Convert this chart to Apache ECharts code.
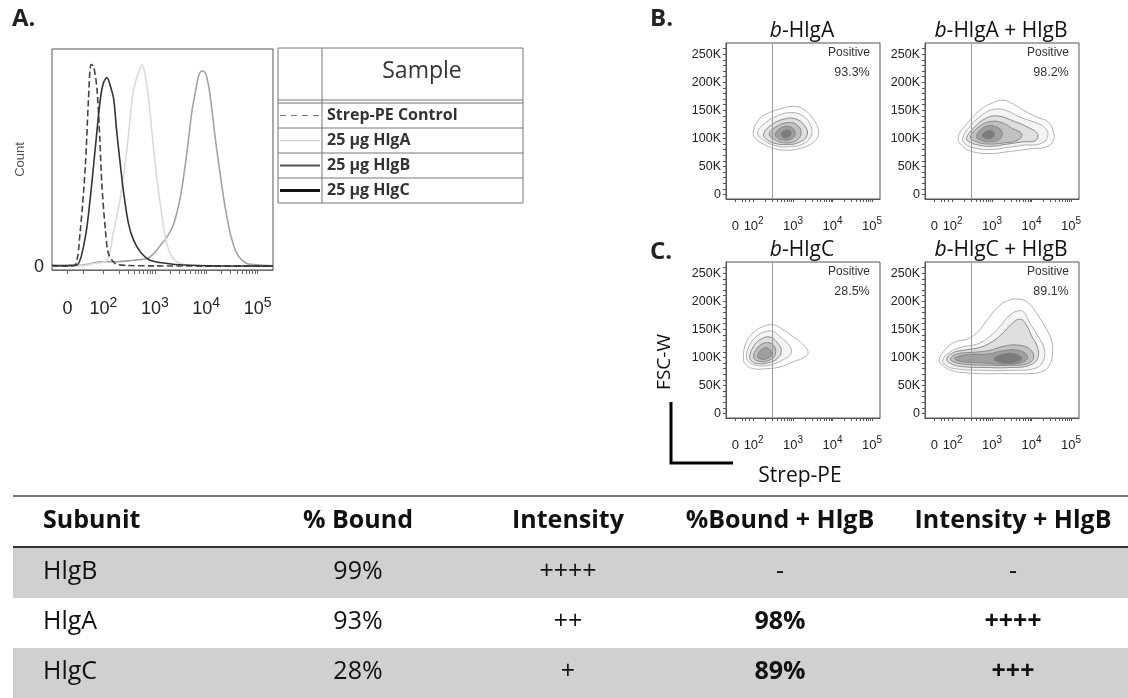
<!DOCTYPE html>
<html>
<head>
<meta charset="utf-8">
<script src="https://cdn.jsdelivr.net/npm/echarts@6/dist/echarts.min.js"></script>
<style>
html, body { margin: 0; padding: 0; background: #fff; }
#main { width: 1128px; height: 698px; }
</style>
</head>
<body>
<div id="main"></div>
<script>
// x values are in decades of the biexponential display (2 = 10^2 ...)
const histLabelAt = [1.3, 2, 3, 4, 5];
const cytoLabelAt = [1.54, 2, 3, 4, 5];
const fscLabelAt = [0, 50, 100, 150, 200, 250];

// panel A histograms (count as % of the tallest peak)
const strepControl = [[1.0,0.5],[1.29,0.3],[1.45,0.8],[1.55,16.6],[1.65,46.8],[1.71,77],[1.76,92.9],[1.81,92],[1.875,81.6],[1.93,58.9],[1.97,37.8],[2.04,16.6],[2.1,6],[2.23,1.5],[2.46,0.6],[3.0,0.4],[4.0,0.3],[5.3,0.3]];
const hlgA = [[1.0,0.3],[1.6,0.5],[1.81,1.5],[2.07,3],[2.2,16.6],[2.33,31.7],[2.46,54.4],[2.56,77],[2.62,84.6],[2.685,89.1],[2.75,92.9],[2.815,87.6],[2.88,77],[2.945,61.9],[3.01,46.8],[3.107,28.7],[3.204,13.6],[3.3,6],[3.43,2.3],[3.63,0.8],[4.2,0.4],[5.3,0.3]];
const hlgB = [[1.0,0.3],[1.6,0.8],[1.94,2.3],[2.26,2.3],[2.59,3],[2.85,3.8],[2.98,6],[3.107,9.8],[3.237,13.6],[3.366,19.6],[3.496,31.7],[3.593,46.8],[3.658,58.9],[3.72,71],[3.788,80],[3.852,87.6],[3.918,89.9],[3.982,89.1],[4.047,83.1],[4.11,72.5],[4.177,58.9],[4.274,42.3],[4.37,27.2],[4.47,15.1],[4.6,6],[4.79,1.5],[5.05,0.8],[5.3,0.5]];
const hlgC = [[1.0,0.5],[1.3,0.6],[1.486,0.8],[1.648,13.6],[1.745,31.7],[1.842,54.4],[1.94,77],[2.004,84.6],[2.07,86.9],[2.134,83.1],[2.2,77],[2.26,61.9],[2.33,46.8],[2.39,34.7],[2.49,19.6],[2.59,12.1],[2.72,6.8],[2.91,3],[3.24,1.5],[3.56,0.8],[4.2,0.4],[5.3,0.3]];
const legendRows = ['Strep-PE Control', '25 µg HlgA', '25 µg HlgB', '25 µg HlgC'];

// panels B/C: contour rings, outer to inner, [decades, FSC-W in K]
const ringsHlgA = [
  [[1.99,112],[2.15,135],[2.4,146],[2.7,153],[3.0,157],[3.26,152],[3.51,134],[3.64,115],[3.6,100],[3.4,88],[3.1,81],[2.8,79],[2.5,82],[2.25,90],[2.05,100]],
  [[2.1,110],[2.3,128],[2.6,140],[2.95,146],[3.25,140],[3.45,122],[3.45,104],[3.25,90],[2.9,85],[2.55,87],[2.25,97]],
  [[2.25,108],[2.45,124],[2.75,134],[3.05,135],[3.3,122],[3.35,105],[3.15,93],[2.85,89],[2.5,92],[2.3,100]],
  [[2.4,108],[2.6,122],[2.85,128],[3.1,124],[3.2,108],[3.05,95],[2.8,92],[2.55,97]],
  [[2.55,108],[2.7,119],[2.9,121],[3.05,112],[2.98,100],[2.75,97],[2.6,101]],
  [[2.7,108],[2.82,115],[2.95,111],[2.88,102],[2.75,102]]
];
const ringsHlgAB = [
  [[2.14,102],[2.36,126],[2.69,150],[3.03,164],[3.28,168],[3.54,161],[3.79,150],[4.13,138],[4.42,129],[4.55,111],[4.55,96],[4.38,85],[4.04,82],[3.7,79],[3.37,76],[2.95,73],[2.52,76],[2.27,85]],
  [[2.25,100],[2.45,122],[2.75,142],[3.05,152],[3.35,150],[3.7,138],[4.1,128],[4.35,118],[4.4,102],[4.2,90],[3.8,88],[3.4,84],[2.95,80],[2.55,83],[2.32,90]],
  [[2.35,100],[2.55,120],[2.85,136],[3.15,140],[3.5,132],[3.9,120],[4.15,108],[4.1,96],[3.8,94],[3.4,90],[2.95,86],[2.6,89],[2.42,94]],
  [[2.45,102],[2.65,120],[2.95,130],[3.25,128],[3.5,118],[3.75,108],[3.65,97],[3.3,92],[2.9,90],[2.6,94]],
  [[2.6,104],[2.8,120],[3.05,122],[3.25,112],[3.2,99],[2.95,94],[2.7,97]],
  [[2.75,105],[2.9,114],[3.05,110],[3.0,101],[2.85,100]]
];
const ringsHlgC = [
  [[1.74,101],[1.82,128],[2.03,146],[2.24,155],[2.5,158],[2.75,149],[3.0,137],[3.26,122],[3.38,110],[3.3,101],[3.0,92],[2.67,83],[2.33,80],[1.99,80],[1.78,89]],
  [[1.82,100],[1.9,122],[2.08,138],[2.3,146],[2.5,146],[2.7,135],[2.9,122],[2.95,108],[2.75,96],[2.45,87],[2.15,85],[1.92,90]],
  [[1.9,100],[2.0,120],[2.2,133],[2.42,136],[2.6,126],[2.7,112],[2.6,98],[2.35,90],[2.1,89],[1.96,93]],
  [[2.0,100],[2.1,117],[2.3,126],[2.5,122],[2.55,106],[2.4,95],[2.15,93]],
  [[2.1,102],[2.2,114],[2.38,116],[2.45,104],[2.3,97],[2.15,98]]
];
const ringsHlgCB = [
  [[1.66,95],[1.79,112],[2.04,127],[2.38,133],[2.63,145],[2.89,168],[3.14,189],[3.39,201],[3.65,204],[3.9,198],[4.11,180],[4.32,157],[4.49,133],[4.53,109],[4.45,86],[4.24,74],[3.9,71],[3.56,71],[3.14,71],[2.72,71],[2.29,73],[1.96,77],[1.75,86]],
  [[1.75,95],[1.92,109],[2.21,118],[2.63,124],[2.97,139],[3.22,157],[3.43,174],[3.65,183],[3.81,180],[3.94,163],[4.15,139],[4.32,115],[4.28,92],[4.07,80],[3.56,77],[2.72,77],[2.04,80],[1.83,86]],
  [[1.85,97],[2.0,108],[2.3,113],[2.7,118],[3.0,128],[3.25,142],[3.5,160],[3.7,168],[3.85,160],[4.0,138],[4.15,118],[4.15,98],[3.95,86],[3.5,82],[2.8,82],[2.2,84],[1.95,89]],
  [[1.95,98],[2.1,106],[2.5,109],[2.9,112],[3.3,120],[3.65,122],[3.95,115],[4.05,100],[3.9,89],[3.5,86],[2.9,86],[2.3,88],[2.02,92]],
  [[2.05,99],[2.4,105],[2.9,106],[3.3,112],[3.7,112],[3.9,101],[3.75,91],[3.3,88],[2.8,90],[2.3,92],[2.1,95]],
  [[3.05,98],[3.3,106],[3.6,106],[3.75,97],[3.5,90],[3.2,91]]
];
const plotRings = [ringsHlgA, ringsHlgAB, ringsHlgC, ringsHlgCB];
const plotTitles = ['HlgA', 'HlgA + HlgB', 'HlgC', 'HlgC + HlgB'];
const positives = ['93.3%', '98.2%', '28.5%', '89.1%'];
const gateAt = 2.46;

// summary table
const tableHead = ['Subunit', '% Bound', 'Intensity', '%Bound + HlgB', 'Intensity + HlgB'];
const tableRows = [
  ['HlgB', '99%', '++++', '-', '-'],
  ['HlgA', '93%', '++', '98%', '++++'],
  ['HlgC', '28%', '+', '89%', '+++']
];

const SANS = 'Liberation Sans, Arial, sans-serif';
const CAL = 'Open Sans, sans-serif';
const chart = echarts.init(document.getElementById('main'));

// tick positions on the log part of the axis
const logTicks = [];
for (let k = 2; k <= 4; k++) for (let m = 1; m <= 9; m++) logTicks.push(k + Math.log10(m));
logTicks.push(5);
const fscTicks = [];
for (let v = 0; v <= 260; v += 10) fscTicks.push(v);

const boxes = [[726, 43], [925, 43], [726, 262], [925, 262]];
const ringFill = [0, 0.05, 0.1, 0.16, 0.22, 0.3];

const grids = [{ left: 52, top: 49, width: 221, height: 221 }];
boxes.forEach(b => grids.push({ left: b[0], top: b[1], width: 154, height: 156 }));
grids.forEach(g => Object.assign(g, { show: true, borderColor: '#555', borderWidth: 1, outerBoundsMode: 'none', containLabel: false }));

const decadeLabel = v => (v < 1.9 ? '0' : '10{s|' + Math.round(v) + '}');

const xAxes = [{
  gridIndex: 0, type: 'value', min: 1.0, max: 5.3,
  axisLine: { show: true, onZero: false, lineStyle: { color: '#666' } },
  axisTick: { show: true, length: 4, customValues: [1.3, 1.6].concat(logTicks), lineStyle: { color: '#666' } },
  splitLine: { show: false },
  axisLabel: {
    customValues: histLabelAt, formatter: decadeLabel, margin: 26,
    color: '#222', fontFamily: SANS, fontSize: 18, lineHeight: 27,
    rich: { s: { fontFamily: SANS, fontSize: 14, color: '#222', verticalAlign: 'top', padding: [0, 0, 13, 0] } }
  }
}];
const yAxes = [{
  gridIndex: 0, type: 'value', min: -1.5, max: 100,
  axisLine: { show: false }, axisTick: { show: false }, splitLine: { show: false },
  axisLabel: { customValues: [0], color: '#222', fontFamily: SANS, fontSize: 18, margin: 8 },
  name: 'Count', nameLocation: 'middle', nameGap: 25, nameRotate: 90,
  nameTextStyle: { color: '#555', fontFamily: SANS, fontSize: 13 }
}];
boxes.forEach((b, i) => {
  xAxes.push({
    gridIndex: i + 1, type: 'value', min: 1.3, max: 5.2,
    axisLine: { show: true, onZero: false, lineStyle: { color: '#555' } },
    axisTick: { show: true, length: 3, customValues: [1.54, 1.7, 1.8, 1.9].concat(logTicks), lineStyle: { color: '#555' } },
    splitLine: { show: false },
    axisLabel: {
      customValues: cytoLabelAt, formatter: decadeLabel, margin: 17,
      color: '#222', fontFamily: SANS, fontSize: 13, lineHeight: 20,
      rich: { s: { fontFamily: SANS, fontSize: 10, color: '#222', verticalAlign: 'top', padding: [0, 0, 9, 0] } }
    }
  });
  yAxes.push({
    gridIndex: i + 1, type: 'value', min: -8, max: 270,
    axisLine: { show: true, onZero: false, lineStyle: { color: '#555' } },
    axisTick: { show: true, length: 3, customValues: fscTicks, lineStyle: { color: '#555' } },
    splitLine: { show: false },
    axisLabel: {
      customValues: fscLabelAt, formatter: v => (v ? v + 'K' : '0'),
      color: '#222', fontFamily: SANS, fontSize: 12.5, margin: 5
    }
  });
});

const series = [
  { data: hlgB, color: '#a3a3a3', type: 'solid' },
  { data: hlgA, color: '#dadada', type: 'solid' },
  { data: strepControl, color: '#444', type: 'dashed' },
  { data: hlgC, color: '#333', type: 'solid' }
].map(s => ({
  type: 'line', xAxisIndex: 0, yAxisIndex: 0, data: s.data, symbol: 'none', smooth: 0.3,
  lineStyle: { color: s.color, width: 1.6, type: s.type }
}));

plotRings.forEach((rings, i) => {
  series.push({
    type: 'custom', xAxisIndex: i + 1, yAxisIndex: i + 1, clip: true,
    data: rings.map(r => r[0]),
    renderItem: (params, api) => {
      const depth = params.dataIndex;
      const pts = rings[depth].map(p => api.coord(p));
      return {
        type: 'polygon',
        shape: { points: pts, smooth: 0.45 },
        style: {
          fill: depth === 0 ? 'none' : 'rgba(40,40,40,' + ringFill[depth] + ')',
          stroke: depth < 2 ? '#a8a8a8' : '#808080',
          lineWidth: 0.9
        }
      };
    }
  });
  series.push({
    type: 'line', xAxisIndex: i + 1, yAxisIndex: i + 1, data: [],
    markLine: {
      silent: true, symbol: 'none', label: { show: false },
      lineStyle: { color: '#999', width: 1, type: 'solid' },
      data: [{ xAxis: gateAt }]
    }
  });
});

// graphic: panel letters, legend table, titles, gate labels, axis key, summary table
const g = [];
const txt = (x, y, text, o) => g.push({
  type: 'text', x, y,
  style: Object.assign({ text, fill: '#222', font: '14px ' + CAL, align: 'left', verticalAlign: 'middle' }, o)
});
const line = (x1, y1, x2, y2, o) => g.push({
  type: 'line', shape: { x1, y1, x2, y2 },
  style: Object.assign({ stroke: '#777', lineWidth: 1 }, o)
});

txt(12, 19, 'A.', { font: 'bold 24px ' + CAL });
txt(650, 19, 'B.', { font: 'bold 24px ' + CAL });
txt(650, 252, 'C.', { font: 'bold 24px ' + CAL });

// legend table for panel A
g.push({ type: 'rect', shape: { x: 278, y: 48, width: 245, height: 155 }, style: { fill: 'none', stroke: '#777', lineWidth: 1 } });
line(322, 48, 322, 203);
line(278, 100, 523, 100);
line(278, 103, 523, 103);
txt(422, 71, 'Sample', { font: '23px ' + CAL, align: 'center', fill: '#333' });
const legendStyles = [
  { stroke: '#777', lineDash: [6, 5], lineWidth: 1.2 },
  { stroke: '#cfcfcf', lineWidth: 1.5 },
  { stroke: '#555', lineWidth: 2 },
  { stroke: '#111', lineWidth: 3 }
];
legendRows.forEach((name, i) => {
  const top = 103 + i * 25;
  if (i > 0) line(278, top, 523, top);
  line(280, top + 12.5, 320, top + 12.5, legendStyles[i]);
  txt(327, top + 12.5, name, { font: 'bold 16px ' + CAL, fill: '#333' });
});

// cytometry panel titles and gate percentages
boxes.forEach((b, i) => {
  txt(b[0] + 76, b[1] - 12, '{i|b}-' + plotTitles[i], {
    font: '21px ' + CAL, align: 'center', fill: '#111',
    rich: { i: { font: 'italic 21px ' + CAL, fill: '#111' } }
  });
  txt(b[0] + 102, b[1] + 10, 'Positive', { font: '12px ' + SANS, fill: '#333' });
  txt(b[0] + 126, b[1] + 30, positives[i], { font: '12.5px ' + SANS, fill: '#333', align: 'center' });
});

txt(665, 362, 'FSC-W', { font: '19px ' + CAL, align: 'center', fill: '#111' });
g[g.length - 1].rotation = Math.PI / 2;
txt(800, 476, 'Strep-PE', { font: '21px ' + CAL, align: 'center', fill: '#111' });
g.push({ type: 'polyline', shape: { points: [[671, 402], [671, 463], [733, 463]] }, style: { stroke: '#000', lineWidth: 3, fill: 'none' } });

// summary table
const colX = [43, 358, 568, 780, 1013];
line(13, 496, 1128, 496, { stroke: '#444', lineWidth: 1.5 });
tableHead.forEach((h, c) => txt(colX[c], 521, h, { font: 'bold 25px ' + CAL, align: c ? 'center' : 'left', fill: '#111' }));
tableRows.forEach((row, r) => {
  const top = 548 + r * 50;
  if (r % 2 === 0) g.push({ type: 'rect', shape: { x: 13, y: top, width: 1115, height: 50 }, style: { fill: '#d0d0d0' } });
  row.forEach((cell, c) => {
    const bold = c >= 3 && cell !== '-';
    txt(colX[c], top + 24, cell, { font: (bold ? 'bold ' : '') + '25px ' + CAL, align: c ? 'center' : 'left', fill: '#111' });
  });
});
line(13, 547, 1128, 547, { stroke: '#333', lineWidth: 2 });

chart.setOption({
  animation: false,
  backgroundColor: '#fff',
  grid: grids,
  xAxis: xAxes,
  yAxis: yAxes,
  series: series,
  graphic: g
});
</script>
</body>
</html>
